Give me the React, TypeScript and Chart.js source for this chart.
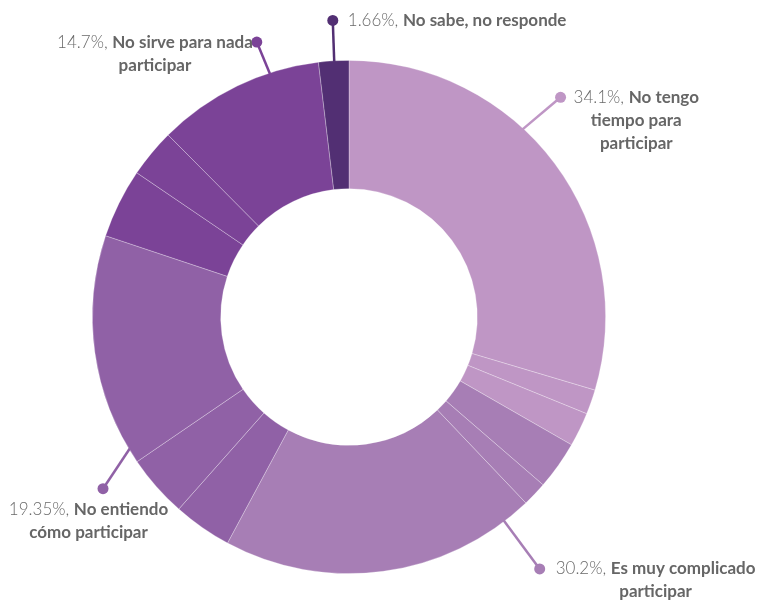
import React, { useEffect, useRef } from 'react';
import { Chart, registerables } from 'chart.js';

Chart.register(...registerables);

// Slice values (percent of the ring), clockwise from 12 o'clock
const sliceValues = [29.6, 1.55, 2.15, 3.05, 1.55, 19.95, 3.69, 3.93, 14.66, 4.37, 3.05, 10.55, 1.9];
// Group index of every slice
const sliceGroups = [0, 0, 0, 1, 1, 1, 2, 2, 2, 3, 3, 3, 4];
const groupColors = ['#BF96C5', '#A77EB5', '#9061A6', '#7B4397', '#522F73'];

// Group labels
const labelPercents = ['34.1%', '30.2%', '19.35%', '14.7%', '1.66%'];
const labelNames = [
  ['No tengo', 'tiempo para', 'participar'],
  ['Es muy complicado', 'participar'],
  ['No entiendo', 'cómo participar'],
  ['No sirve para nada', 'participar'],
  ['No sabe, no responde'],
];

// Label layout (connector start / dot position along the ring in percent, dot distance, text placement)
const labelLayout = [
  { startPct: 11.88, dotPct: 12.2, dotDist: 305, mode: 'right', dx: 13, dy: 0 },
  { startPct: 39.65, dotPct: 39.69, dotDist: 316, mode: 'right', dx: 16, dy: 0 },
  { startPct: 66.4, dotPct: 65.3, dotDist: 300, mode: 'center', dx: -14.5, dy: 21 },
  { startPct: 95.0, dotPct: 94.85, dotDist: 290, mode: 'left', dx: -4, dy: 0 },
  { startPct: 99.08, dotPct: 99.13, dotDist: 297, mode: 'right', dx: 15, dy: 0 },
];

const FONT = 'Lato, "Open Sans", sans-serif';
const FONT_SIZE = 17;
const LINE_H = 23;

const labelPlugin = {
  id: 'groupLabels',
  afterDatasetsDraw(chart: any) {
    const meta = chart.getDatasetMeta(0);
    const arc = meta.data[0];
    if (!arc) return;
    const { x: cx, y: cy, outerRadius } = arc.getProps(['x', 'y', 'outerRadius'], true);
    const ctx: CanvasRenderingContext2D = chart.ctx;
    const toAngle = (pct: number) => -Math.PI / 2 + (pct / 100) * Math.PI * 2;

    labelLayout.forEach((lay, i) => {
      const color = groupColors[i];
      const a0 = toAngle(lay.startPct);
      const a1 = toAngle(lay.dotPct);
      const sx = cx + Math.cos(a0) * (outerRadius - 1);
      const sy = cy + Math.sin(a0) * (outerRadius - 1);
      const dx = cx + Math.cos(a1) * lay.dotDist;
      const dy = cy + Math.sin(a1) * lay.dotDist;

      ctx.save();
      ctx.strokeStyle = color;
      ctx.lineWidth = 2.5;
      ctx.beginPath();
      ctx.moveTo(sx, sy);
      ctx.lineTo(dx, dy);
      ctx.stroke();
      ctx.fillStyle = color;
      ctx.beginPath();
      ctx.arc(dx, dy, 5.5, 0, Math.PI * 2);
      ctx.fill();

      // text lines
      const lines = labelNames[i].map((name, k) =>
        k === 0
          ? [
              { t: labelPercents[i] + ', ', w: 300, c: '#6a6a6a' },
              { t: name, w: 700, c: '#666666' },
            ]
          : [{ t: name, w: 700, c: '#666666' }]
      );
      const measure = (parts: any[]) =>
        parts.reduce((s, p) => {
          ctx.font = `${p.w} ${FONT_SIZE}px ${FONT}`;
          return s + ctx.measureText(p.t).width;
        }, 0);
      const widths = lines.map(measure);
      const blockW = Math.max(...widths);
      let centerX: number;
      if (lay.mode === 'right') centerX = dx + lay.dx + blockW / 2;
      else if (lay.mode === 'left') centerX = dx + lay.dx - blockW / 2;
      else centerX = dx + lay.dx;
      const topY = dy + lay.dy;
      ctx.textBaseline = 'middle';
      ctx.textAlign = 'left';
      lines.forEach((parts, k) => {
        let x = centerX - widths[k] / 2;
        const y = topY + k * LINE_H;
        parts.forEach((p) => {
          ctx.font = `${p.w} ${FONT_SIZE}px ${FONT}`;
          ctx.fillStyle = p.c;
          ctx.fillText(p.t, x, y);
          x += ctx.measureText(p.t).width;
        });
      });
      ctx.restore();
    });
  },
};

export default function App() {
  const ref = useRef<HTMLCanvasElement>(null);
  useEffect(() => {
    document.body.style.margin = '0';
    const chart = new Chart(ref.current as HTMLCanvasElement, {
      type: 'doughnut',
      data: {
        labels: sliceValues.map((_, i) => `slice ${i + 1}`),
        datasets: [
          {
            data: sliceValues,
            backgroundColor: sliceGroups.map((g) => groupColors[g]),
            borderColor: 'rgba(255,255,255,0.35)',
            borderWidth: 0.8,
          },
        ],
      },
      options: {
        responsive: false,
        animation: false,
        events: [],
        cutout: '50%',
        layout: { padding: { left: 92, top: 60, right: 158, bottom: 32 } },
        plugins: {
          legend: { display: false },
          tooltip: { enabled: false },
        },
      },
      plugins: [labelPlugin],
    });
    return () => chart.destroy();
  }, []);
  return (
    <div style={{ width: 764, height: 606 }}>
      <canvas ref={ref} width={764} height={606} style={{ display: 'block' }} />
    </div>
  );
}
